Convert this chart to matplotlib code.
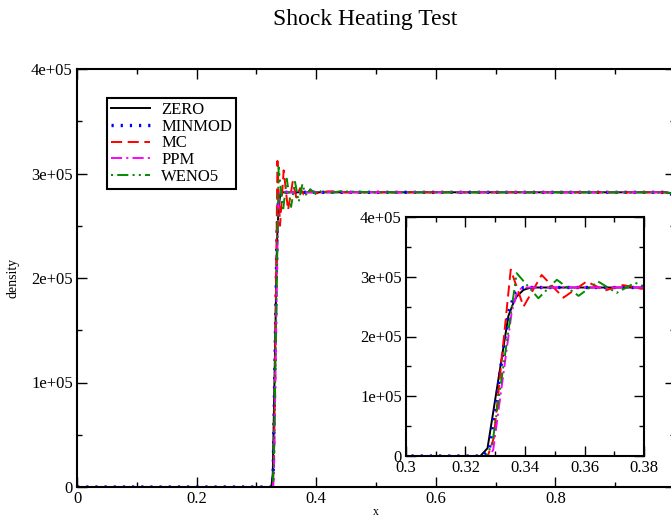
import numpy as np
import matplotlib
matplotlib.use("Agg")
import matplotlib.pyplot as plt
from matplotlib.ticker import MultipleLocator, FuncFormatter

plt.rcParams['font.family'] = ['Liberation Serif', 'DejaVu Serif']
plt.rcParams['lines.scale_dashes'] = False

# density profiles (x, rho)
x_zero = [0.0, 0.3250, 0.3274, 0.3344, 0.3360, 0.3372, 0.3395, 0.3420, 0.36, 0.40, 0.50,
          0.60, 0.70, 0.80, 0.90, 0.985, 0.995, 1.0]
rho_zero = [0, 0, 0.13e5, 2.34e5, 2.55e5, 2.67e5, 2.78e5, 2.82e5, 2.82e5, 2.82e5, 2.82e5,
            2.82e5, 2.82e5, 2.82e5, 2.82e5, 2.82e5, 2.81e5, 2.80e5]

x_minmod = [0.0, 0.3255, 0.3280, 0.3345, 0.3367, 0.3395, 0.36, 0.40, 0.50, 0.60, 0.70,
            0.80, 0.90, 0.985, 0.995, 1.0]
rho_minmod = [0, 0, 0.10e5, 2.42e5, 2.73e5, 2.82e5, 2.82e5, 2.82e5, 2.82e5, 2.82e5, 2.82e5,
              2.82e5, 2.82e5, 2.82e5, 2.80e5, 2.79e5]

x_mc = [0.0, 0.3275, 0.3295, 0.3352, 0.3395, 0.3456, 0.3529, 0.3607, 0.3669, 0.3730, 0.3790,
        0.390, 0.400, 0.420, 0.450, 0.50, 0.60, 0.70, 0.80, 0.90, 0.985, 0.992, 1.0]
rho_mc = [0, 0, 0.30e5, 3.12e5, 2.50e5, 3.03e5, 2.65e5, 2.92e5, 2.77e5, 2.86e5, 2.80e5,
          2.84e5, 2.81e5, 2.83e5, 2.82e5, 2.82e5, 2.82e5, 2.82e5, 2.82e5, 2.82e5, 2.82e5, 2.79e5, 2.74e5]

x_ppm = [0.0, 0.3280, 0.3293, 0.3355, 0.3372, 0.3390, 0.36, 0.40, 0.50, 0.60, 0.70,
         0.80, 0.90, 0.985, 0.995, 1.0]
rho_ppm = [0, 0, 0.10e5, 2.40e5, 2.72e5, 2.82e5, 2.82e5, 2.82e5, 2.82e5, 2.82e5, 2.82e5,
           2.82e5, 2.82e5, 2.82e5, 2.81e5, 2.78e5]

x_weno = [0.0, 0.3270, 0.3290, 0.3372, 0.3445, 0.3507, 0.3580, 0.3646, 0.3708, 0.3770, 0.3800,
          0.384, 0.390, 0.400, 0.410, 0.420, 0.440, 0.50, 0.60, 0.70, 0.80, 0.90, 0.985, 0.995, 1.0]
rho_weno = [0, 0, 0.20e5, 3.06e5, 2.64e5, 2.95e5, 2.68e5, 2.92e5, 2.73e5, 2.90e5, 2.84e5,
            2.79e5, 2.85e5, 2.80e5, 2.84e5, 2.81e5, 2.83e5, 2.82e5, 2.82e5, 2.82e5, 2.82e5, 2.82e5,
            2.82e5, 2.81e5, 2.79e5]

labels = ['ZERO', 'MINMOD', 'MC', 'PPM', 'WENO5']
colors = ['black', '#0000ff', '#ff0000', '#ff00ff', '#008c00']
styles = ['-', (0, (1.6, 5.0)), (0, (8, 4)), (0, (8, 3, 1.5, 3)), (0, (1.5, 3, 8, 3, 1.5, 3))]
widths = [1.4, 2.4, 1.4, 1.4, 1.4]
series = [(x_zero, rho_zero), (x_minmod, rho_minmod), (x_mc, rho_mc),
          (x_ppm, rho_ppm), (x_weno, rho_weno)]

W, H = 671, 517
fig = plt.figure(figsize=(W / 100, H / 100), dpi=100)


def ypos(top, bottom):
    return [(H - bottom) / H, (bottom - top) / H]


def sci(v, pos):
    return '0' if v == 0 else '%.0e' % v


def style_axes(ax):
    for s in ax.spines.values():
        s.set_linewidth(1.5)
    ax.tick_params(which='both', direction='in', top=True, right=True, labelsize=12, width=1.0)
    ax.tick_params(which='major', length=7.5, pad=3)
    ax.tick_params(which='minor', length=3.8)
    ax.set_ylim(0, 4e5)
    ax.yaxis.set_major_locator(MultipleLocator(1e5))
    ax.yaxis.set_minor_locator(MultipleLocator(0.5e5))
    ax.yaxis.set_major_formatter(FuncFormatter(sci))


b, h = ypos(69, 487)
ax = fig.add_axes([77 / W, b, (675 - 77) / W, h])
for (xs, ys), lab, c, ls, lw in zip(series, labels, colors, styles, widths):
    ax.plot(xs, ys, color=c, linestyle=ls, linewidth=lw, label=lab)
style_axes(ax)
ax.set_xlim(0, 1)
ax.xaxis.set_major_locator(MultipleLocator(0.2))
ax.xaxis.set_minor_locator(MultipleLocator(0.1))
ax.xaxis.set_major_formatter(FuncFormatter(lambda v, p: '' if v > 0.95 else ('0' if v == 0 else '%g' % v)))
ax.set_xlabel('x', fontsize=8.5, labelpad=-1)
ax.set_ylabel('density', fontsize=10, labelpad=8)

leg = ax.legend(loc='upper left', bbox_to_anchor=(107 / W, 1 - 98 / H),
                bbox_transform=fig.transFigure, borderaxespad=0, fontsize=12,
                fancybox=False, framealpha=1, edgecolor='black', handlelength=2.3,
                handletextpad=0.7, labelspacing=0.04, borderpad=0.25)
leg.get_frame().set_linewidth(1.5)

fig.text(365 / W, 1 - 20 / H, 'Shock Heating Test', ha='center', va='center', fontsize=17)

b, h = ypos(217, 456)
axi = fig.add_axes([406 / W, b, (644 - 406) / W, h])
for (xs, ys), c, ls, lw in zip(series, colors, styles, widths):
    axi.plot(xs, ys, color=c, linestyle=ls, linewidth=lw)
style_axes(axi)
axi.set_xlim(0.3, 0.38)
axi.xaxis.set_major_locator(MultipleLocator(0.02))
axi.xaxis.set_minor_locator(MultipleLocator(0.01))
axi.xaxis.set_major_formatter(FuncFormatter(lambda v, p: '%g' % round(v, 2)))

fig.savefig('out.png', dpi=100)
